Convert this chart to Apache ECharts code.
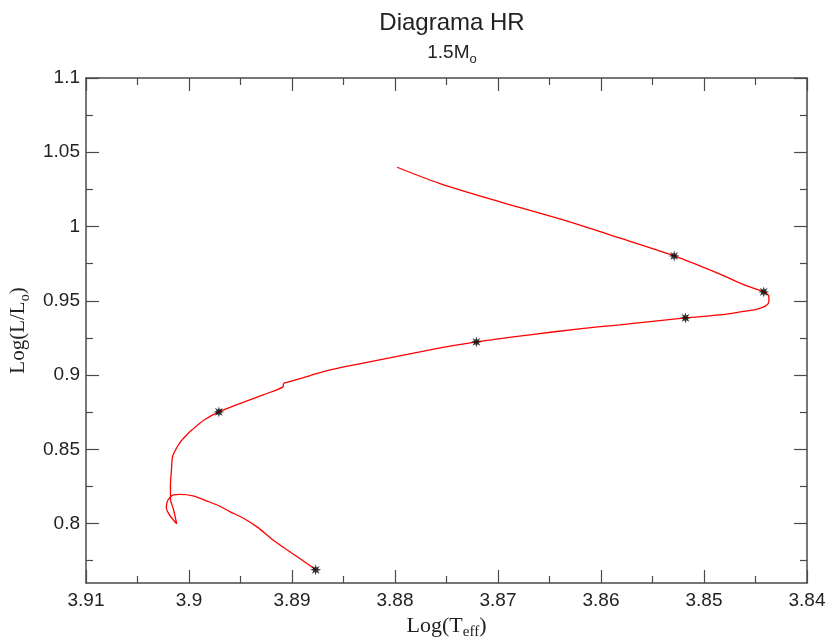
<!DOCTYPE html>
<html>
<head>
<meta charset="utf-8">
<script src="https://cdn.jsdelivr.net/npm/echarts@6/dist/echarts.min.js"></script>
<style>html,body{margin:0;padding:0;background:#fff;}#chart{width:830px;height:641px;}</style>
</head>
<body>
<div id="chart"></div>
<script>
// Evolutionary track (Log Teff, Log L/Lsun), in order along the track
var trackLogT = [3.8877,3.8892,3.8905,3.8920,3.8934,3.8948,3.8960,3.8971,3.8983,3.8996,3.9009,3.9015,3.9018,3.9021,3.9022,3.9019,3.9012,3.9015,3.9018,3.9018,3.9017,3.9016,3.9013,3.9009,3.9003,3.8997,3.8985,3.8971,3.8954,3.8928,3.8909,3.8908,3.8905,3.8883,3.8863,3.8815,3.8766,3.8721,3.8669,3.8621,3.8582,3.8518,3.8485,3.8463,3.8449,3.8440,3.8437,3.8437,3.8442,3.8461,3.8485,3.8529,3.8582,3.8640,3.8698,3.8757,3.8798];
var trackLogL = [0.7689,0.7763,0.7824,0.7898,0.7978,0.8039,0.8079,0.8120,0.8153,0.8187,0.8197,0.8194,0.8180,0.8150,0.8106,0.8059,0.7999,0.8093,0.8167,0.8261,0.8362,0.8450,0.8497,0.8544,0.8591,0.8631,0.8699,0.8752,0.8799,0.8867,0.8919,0.8944,0.8950,0.8995,0.9035,0.9102,0.9170,0.9223,0.9271,0.9311,0.9338,0.9385,0.9405,0.9427,0.9443,0.9466,0.9495,0.9528,0.9560,0.9607,0.9681,0.9802,0.9923,1.0051,1.0166,1.0291,1.0399];
// Marked points
var markLogT = [3.8877,3.8971,3.8721,3.8518,3.8442,3.8529];
var markLogL = [0.7689,0.8752,0.9223,0.9385,0.9560,0.9802];
// Axis ticks
var yMajorTicks = [0.8,0.85,0.9,0.95,1,1.05,1.1];
var yMinorTicks = [0.775,0.825,0.875,0.925,0.975,1.025,1.075];

var trackData = trackLogT.map(function(t,i){return [t, trackLogL[i]];});
var markData = markLogT.map(function(t,i){return [t, markLogL[i]];});

var axisCol = '#4a4a4a';
var sans = 'Liberation Sans, Arial, Helvetica, sans-serif';
var serif = 'Liberation Serif, Times New Roman, serif';
var fmt2 = function(v){return String(+Number(v).toFixed(3));};
var star = 'path://M20,10L14.2,11.7L17.07,17.07L11.7,14.2L10,20L8.3,14.2L2.93,17.07L5.8,11.7L0,10L5.8,8.3L2.93,2.93L8.3,5.8L10,0L11.7,5.8L17.07,2.93L14.2,8.3Z';

function xAx(pos, main){
  return {
    type:'value', position:pos, min:3.84, max:3.91, interval:0.01, inverse:true,
    name: main ? 'Log(T{sub|eff})' : '', nameLocation:'middle', nameGap:21,
    nameTextStyle:{fontFamily:serif, fontSize:22, color:'#222',
      rich:{sub:{fontFamily:serif, fontSize:15, color:'#222', padding:[13,0,0,0]}}},
    axisLine:{show:true, onZero:false, lineStyle:{color:axisCol, width:1.5}},
    axisTick:{show:true, inside:true, length:13, lineStyle:{color:axisCol, width:1.2}},
    minorTick:{show:true, splitNumber:2, length:7, lineStyle:{color:axisCol, width:1.2}},
    axisLabel:{show:main, margin:8, fontFamily:sans, fontSize:19, color:'#222', formatter:fmt2},
    splitLine:{show:false}, minorSplitLine:{show:false}
  };
}
function yAx(pos, main, minor){
  return {
    type:'value', position:pos, min:0.76, max:1.1,
    name: (main && pos==='left') ? 'Log(L/L{sub|o})' : '', nameLocation:'middle', nameGap:53, nameRotate:90,
    nameTextStyle:{fontFamily:serif, fontSize:21, color:'#222',
      rich:{sub:{fontFamily:serif, fontSize:14, color:'#222', padding:[13,0,0,0]}}},
    axisLine:{show:main, onZero:false, lineStyle:{color:axisCol, width:1.5}},
    axisTick:{show:true, inside:true, length: minor ? 7 : 13, customValues: minor ? yMinorTicks : yMajorTicks, lineStyle:{color:axisCol, width:1.2}},
    axisLabel:{show: main && pos==='left', margin:6, fontFamily:sans, fontSize:19, color:'#222', formatter:fmt2, customValues: yMajorTicks},
    splitLine:{show:false}
  };
}

var chart = echarts.init(document.getElementById('chart'), null, {renderer:'canvas'});
chart.setOption({
  backgroundColor:'#fff',
  animation:false,
  title:[
    {text:'Diagrama HR', left:447, top:6, textAlign:'center',
      textStyle:{fontFamily:sans, fontSize:24, fontWeight:'normal', color:'#222'}},
    {text:'1.5M{sub|o}', left:447, top:35, textAlign:'center',
      textStyle:{fontFamily:sans, fontSize:19, fontWeight:'normal', color:'#222',
        rich:{sub:{fontFamily:sans, fontSize:13, color:'#222', padding:[13,0,0,0]}}}}
  ],
  grid:{left:86, right:23, top:78, bottom:58, containLabel:false, outerBoundsMode:'none'},
  xAxis:[xAx('bottom', true), xAx('top', false)],
  yAxis:[yAx('left', true, false), yAx('right', true, false), yAx('left', false, true), yAx('right', false, true)],
  series:[
    {type:'line', data:trackData, xAxisIndex:0, yAxisIndex:0, showSymbol:false, symbol:'none', smooth:0.3,
      lineStyle:{color:'#ff0000', width:1.3}, z:2, silent:true},
    {type:'scatter', data:markData, xAxisIndex:0, yAxisIndex:0, symbol:star, symbolSize:11,
      itemStyle:{color:'#000'}, z:3}
  ]
});
</script>
</body>
</html>
